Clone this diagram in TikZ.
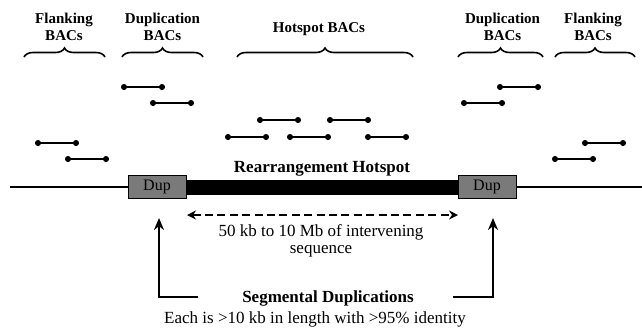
\documentclass[tikz,border=0pt]{standalone}
\usepackage{fontspec}
\setmainfont{Liberation Serif}
\usetikzlibrary{arrows.meta,decorations.pathreplacing}

\begin{document}
\begin{tikzpicture}[x = 0.5pt, y = -0.5pt,
    bac/.style = {line width = 0.7pt, {Circle[length = 3pt]}-{Circle[length = 3pt]}},
    group/.style = {decorate, decoration = {brace, amplitude = 4.5pt}, line width = 0.8pt},
    heading/.style = {font = \bfseries\fontsize{7.5}{8.5}\selectfont, align = center, inner sep = 0, anchor = north},
    note/.style = {font = \fontsize{8.5}{8.5}\selectfont, inner sep = 0},
    dupbox/.style = {draw, line width = 0.5pt, fill = black!52, minimum width = 29pt, minimum height = 11.5pt, inner sep = 0, font = \fontsize{8}{8}\selectfont},
    pointer/.style = {line width = 1.3pt, -{Stealth[length = 6pt, width = 5pt]}}]
    \useasboundingbox (0,0) rectangle (642,329);
    \node [heading] (flankL) at (64,13) {Flanking\\BACs};
    \node [heading] (dupbacL) at (162.5,13) {Duplication\\BACs};
    \node [heading] (hotbac) at (319,22) {Hotspot BACs};
    \node [heading] (dupbacR) at (502.5,13) {Duplication\\BACs};
    \node [heading] (flankR) at (593,13) {Flanking\\BACs};
    \draw [group] (24,57) -- (105,57);
    \draw [group] (122,57) -- (203,57);
    \draw [group] (237,57) -- (413,57);
    \draw [group] (458,57) -- (543,57);
    \draw [group] (555,57) -- (635,57);
    \draw [bac] (35,143) -- ++(44,0);
    \draw [bac] (65,159) -- ++(44,0);
    \draw [bac] (121,87) -- ++(44,0);
    \draw [bac] (150,103) -- ++(44,0);
    \draw [bac] (257,120) -- ++(44,0);
    \draw [bac] (327,120) -- ++(44,0);
    \draw [bac] (225,137) -- ++(44,0);
    \draw [bac] (287,137) -- ++(44,0);
    \draw [bac] (365,137) -- ++(44,0);
    \draw [bac] (497,87) -- ++(44,0);
    \draw [bac] (461,103) -- ++(44,0);
    \draw [bac] (582,143) -- ++(44,0);
    \draw [bac] (552,159) -- ++(44,0);
    \coordinate (chrL) at (10,187);
    \coordinate (chrR) at (642,187);
    \node [dupbox] (dupL) at (157,187) {Dup};
    \node [dupbox] (dupR) at (487,187) {Dup};
    \draw [line width = 1pt] (chrL) -- (dupL);
    \draw [line width = 1pt] (dupR) -- (chrR);
    \draw [line width = 7.5pt] (dupL) -- (dupR);
    \node [note, font = \bfseries\fontsize{8.5}{8.5}\selectfont, anchor = base] (hotspot) at (322,172) {Rearrangement Hotspot};
    \coordinate (spanL) at (187,215);
    \coordinate (spanR) at (458,215);
    \draw [line width = 0.9pt, dash pattern = on 4pt off 2.2pt, {Stealth[length = 4.5pt, width = 4.5pt]}-{Stealth[length = 4.5pt, width = 4.5pt]}] (spanL) -- (spanR);
    \node [note, align = center, anchor = north] (span) at (321,224.5) {50 kb to 10 Mb of intervening\\sequence};
    \node [note, font = \bfseries\fontsize{8.5}{8.5}\selectfont, anchor = base] (segdup) at (328,302) {Segmental Duplications};
    \node [note, anchor = base] (each) at (315,323) {Each is >10 kb in length with >95\% identity};
    \coordinate (footL) at (198,297);
    \coordinate (tipL) at (159,218);
    \coordinate (footR) at (453,297);
    \coordinate (tipR) at (493,218);
    \draw [pointer] (footL) -| (tipL);
    \draw [pointer] (footR) -| (tipR);
\end{tikzpicture}
\end{document}
